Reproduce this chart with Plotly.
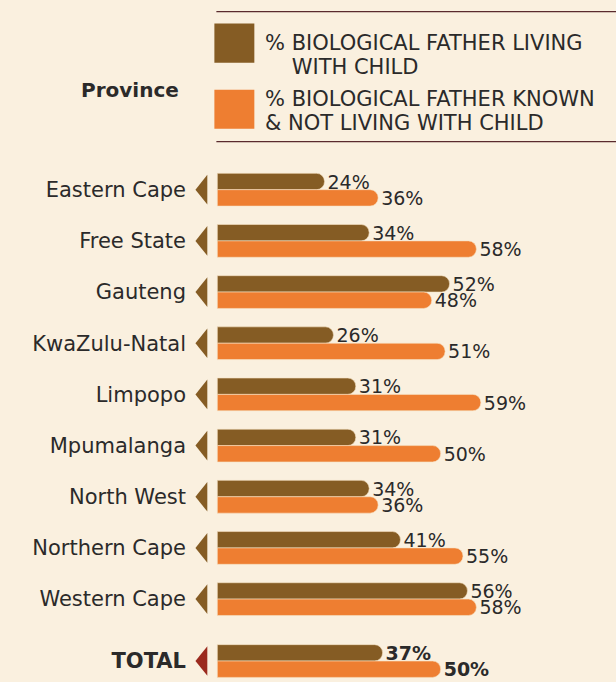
import plotly.graph_objects as go

provinces = ["Eastern Cape", "Free State", "Gauteng", "KwaZulu-Natal", "Limpopo",
             "Mpumalanga", "North West", "Northern Cape", "Western Cape", "TOTAL"]
father_living = [24, 34, 52, 26, 31, 31, 34, 41, 56, 37]
father_not_living = [36, 58, 48, 51, 59, 50, 36, 55, 58, 50]
legend_lines = [["% BIOLOGICAL FATHER LIVING", "    WITH CHILD"],
                ["% BIOLOGICAL FATHER KNOWN", "& NOT LIVING WITH CHILD"]]

BG = "#FAF0DF"
BROWN = "#855C24"
ORANGE = "#EE7E31"
MAROON = "#9B2A1E"
INK = "#2B2A2A"
FONT = "DejaVu Sans"

W, H = 616, 682
L_PX, T_PX = 194.6, 159.3   # plot area left / top in pixels

# row positions: provinces evenly spaced, TOTAL a bit further down
ypos = list(range(len(provinces) - 1)) + [len(provinces) - 1 + 0.21]
is_total = [p == "TOTAL" for p in provinces]


def fx(px):
    return (px - L_PX) / (W - L_PX)


def fy(py):
    return (H - py) / (H - T_PX)


def lab(v, bold):
    return f"<b>{v}%</b>" if bold else f"{v}%"


fig = go.Figure()
fig.add_trace(go.Bar(
    x=father_living, y=ypos, orientation="h", width=0.32, offset=-0.32,
    marker=dict(color=BROWN, cornerradius=8, line=dict(color="#F6E3C4", width=0.6)),
    text=[lab(v, t) for v, t in zip(father_living, is_total)],
    textposition="outside", constraintext="none", cliponaxis=False,
    textfont=dict(family=FONT, size=19, color=INK),
    name=" ".join(legend_lines[0]), showlegend=False))
fig.add_trace(go.Bar(
    x=father_not_living, y=ypos, orientation="h", width=0.32, offset=0,
    marker=dict(color=ORANGE, cornerradius=8, line=dict(color="#F6E3C4", width=0.6)),
    text=[lab(v, t) for v, t in zip(father_not_living, is_total)],
    textposition="outside", constraintext="none", cliponaxis=False,
    textfont=dict(family=FONT, size=19, color=INK),
    name=" ".join(legend_lines[1]), showlegend=False))

# little arrow heads left of each bar pair
for y, t in zip(ypos, is_total):
    fig.add_shape(type="path",
                  path=f"M -2.24 {y - 0.29} L -4.9 {y} L -2.24 {y + 0.29} Z",
                  xref="x", yref="y", fillcolor=MAROON if t else BROWN,
                  line=dict(width=0), layer="above")

# custom legend box
for py in (12, 142):
    fig.add_shape(type="line", xref="paper", yref="paper",
                  x0=fx(216), x1=fx(616), y0=fy(py), y1=fy(py),
                  line=dict(color="#5A2B2E", width=1.2))
for (top, bot), col, lines, cy in zip([(24, 63), (90, 129)], [BROWN, ORANGE],
                                      legend_lines, [43, 99]):
    fig.add_shape(type="rect", xref="paper", yref="paper",
                  x0=fx(214), x1=fx(254), y0=fy(bot), y1=fy(top),
                  fillcolor=col, line=dict(width=0))
    for k, line in enumerate(lines):
        fig.add_annotation(x=fx(263), y=fy(cy + 24 * k), xref="paper", yref="paper",
                           text=line.replace(" ", "&nbsp;") if line.startswith(" ") else line,
                           showarrow=False, xanchor="left", yanchor="middle",
                           align="left", font=dict(family=FONT, size=21, color=INK))
fig.add_annotation(x=fx(130), y=fy(90), xref="paper", yref="paper",
                   text="<b>Province</b>", showarrow=False, xanchor="center",
                   yanchor="middle", font=dict(family=FONT, size=20, color=INK))

fig.update_xaxes(range=[-5, (W - 217) / 4.47], visible=False, fixedrange=True)
fig.update_yaxes(range=[9.62, -0.6], tickmode="array", tickvals=ypos,
                 ticktext=[f"<b>{p}</b>" if t else p for p, t in zip(provinces, is_total)],
                 ticks="", showgrid=False, zeroline=False, showline=False,
                 ticklabelstandoff=8, tickfont=dict(family=FONT, size=21, color=INK))
fig.update_layout(
    width=W, height=H,
    margin=dict(l=L_PX, r=0, t=T_PX, b=0),
    paper_bgcolor=BG, plot_bgcolor=BG,
    barmode="overlay", showlegend=False)

fig.write_html("out.html", config={"displayModeBar": False},
               post_script="document.body.style.margin='0';document.body.style.background='#FAF0DF';")
